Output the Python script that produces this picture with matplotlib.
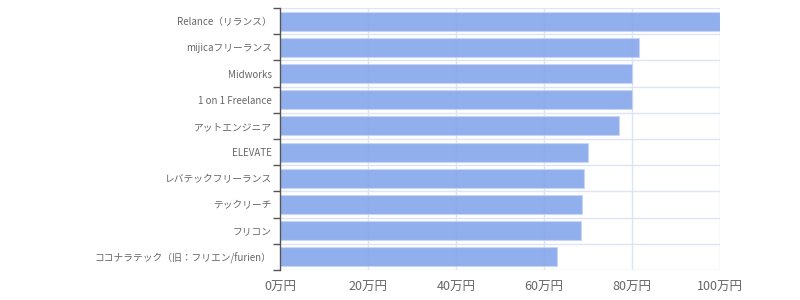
import numpy as np
import matplotlib.pyplot as plt

plt.rcParams['font.family'] = ['Noto Sans CJK JP', 'DejaVu Sans']

services = ['Relance（リランス）', 'mijicaフリーランス', 'Midworks', '1 on 1 Freelance',
            'アットエンジニア', 'ELEVATE', 'レバテックフリーランス', 'テックリーチ',
            'フリコン', 'ココナラテック（旧：フリエン/furien）']
values = [100, 81.6, 80, 80, 77, 70, 69, 68.6, 68.3, 63]
xticks = [0, 20, 40, 60, 80, 100]
xlabels = ['0万円', '20万円', '40万円', '60万円', '80万円', '100万円']

fig = plt.figure(figsize=(8, 3), dpi=100)
ax = fig.add_axes([0.35, 0.1, 0.55, 0.8733])

y = np.arange(len(services))[::-1]
ax.barh(y, values, height=0.72, color='#7fa1ea', alpha=0.85,
        edgecolor='#c8d6f6', linewidth=0.8, zorder=2)

ax.set_xlim(0, 100)
ax.set_ylim(-0.5, len(services) - 0.5)
ax.set_xticks(xticks)
ax.set_xticklabels(xlabels)
ax.set_yticks(y)
ax.set_yticklabels(services)

# grid lines between the categories and at the x ticks
for b in np.arange(-0.5, len(services), 1):
    ax.axhline(b, color='#dfe4f3', linewidth=1, zorder=1)
for t in xticks[1:]:
    ax.axvline(t, color='#dfe4f3', linewidth=1, zorder=1)

ax.set_yticks(np.arange(-0.5, len(services), 1), minor=True)
ax.tick_params(axis='y', which='major', length=0, pad=6, labelsize=7, labelcolor='#666666')
ax.tick_params(axis='y', which='minor', length=5, width=1, color='#555555')
ax.tick_params(axis='x', length=0, pad=8, labelsize=9, labelcolor='#666666')

for s in ['top', 'right', 'bottom']:
    ax.spines[s].set_visible(False)
ax.spines['left'].set_color('#555555')
ax.spines['left'].set_linewidth(1)

plt.savefig('out.png', dpi=100)
